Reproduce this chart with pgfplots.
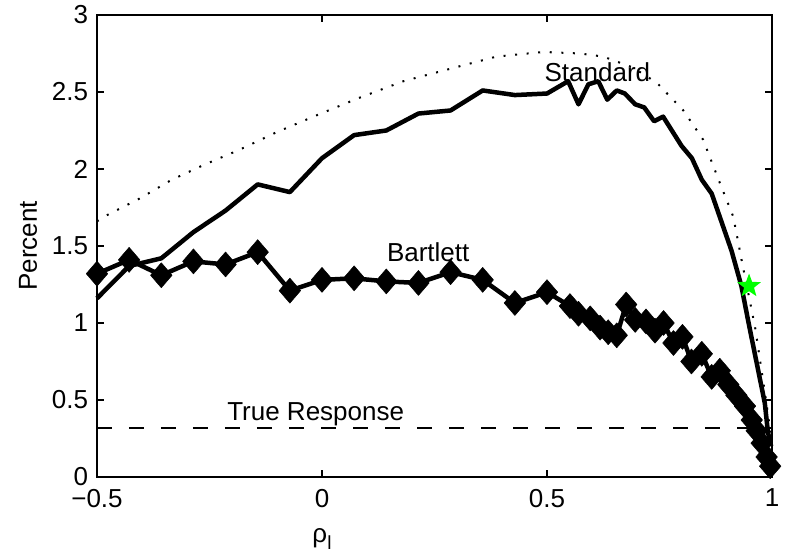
\documentclass[border=0pt]{standalone}
\usepackage{fontspec}
\setmainfont{Liberation Sans}
\usepackage{pgfplots}
\pgfplotsset{compat=1.18}
\usetikzlibrary{shapes.geometric}
\pgfdeclareplotmark{fstar}{\node[star, star points=5, star point ratio=2.4, fill=green, draw=none, inner sep=0pt, minimum size=25pt]{};}
\begin{document}
\fontsize{26}{30}\selectfont
\begin{tikzpicture}
\begin{axis}[
  scale only axis, width=675pt, height=462pt,
  xmin=-0.5, xmax=1, ymin=0, ymax=3,
  xtick={-0.5,0,0.5,1}, xticklabels={−0.5,0,0.5,1},
  ytick={0,0.5,1,1.5,2,2.5,3}, yticklabels={0,0.5,1,1.5,2,2.5,3},
  tick align=inside, major tick length=7pt,
  axis line style={line width=1.4pt},
  every tick/.style={black, line width=1.2pt},
  tick label style={font=\fontsize{26}{30}\selectfont},
  xticklabel style={yshift=-3pt},
  clip=false,
  xlabel={ρ\raisebox{-0.28em}{\fontsize{19}{22}\selectfont l}},
  ylabel={Percent},
  label style={font=\fontsize{26}{30}\selectfont},
  xlabel style={at={(axis description cs:0.3333,0)}, anchor=center, yshift=-62pt},
  ylabel style={at={(axis description cs:-0.1022,0.5)}, anchor=center},
]
% true response
\addplot[black, line width=1.3pt, dash pattern=on 15pt off 17pt] coordinates {(-0.5,0.318) (1,0.318)};
% dotted theoretical curve
\addplot[black, line width=2pt, dash pattern=on 2pt off 9.6pt] coordinates {
(-0.5,1.66) (-0.478,1.70) (-0.404,1.81) (-0.334,1.93) (-0.26,2.03) (-0.187,2.12)
(-0.10,2.24) (-0.019,2.34) (0.081,2.46) (0.181,2.57) (0.284,2.65) (0.388,2.73)
(0.492,2.76) (0.573,2.75) (0.625,2.73) (0.690,2.66) (0.744,2.56) (0.803,2.38)
(0.847,2.19) (0.884,1.91) (0.914,1.69) (0.933,1.40) (0.962,0.98) (0.981,0.61)
(0.992,0.39) (0.998,0.22)};
% Standard
\addplot[black, line width=4.5pt, line join=round] coordinates {
(-0.5,1.16) (-0.4286,1.37) (-0.3571,1.42) (-0.2857,1.59) (-0.2143,1.73) (-0.1429,1.90)
(-0.0714,1.85) (0,2.07) (0.0714,2.22) (0.1429,2.25) (0.2143,2.36) (0.2857,2.38)
(0.3571,2.51) (0.4286,2.48) (0.5,2.49) (0.547,2.57) (0.570,2.42) (0.592,2.55)
(0.614,2.57) (0.634,2.45) (0.655,2.51) (0.673,2.49) (0.696,2.42) (0.716,2.40)
(0.738,2.31) (0.758,2.34) (0.799,2.15) (0.822,2.07) (0.844,1.93) (0.866,1.84)
(0.910,1.47) (0.932,1.24) (0.948,1.00) (0.966,0.74) (0.984,0.48) (0.991,0.29) (0.998,0.20)};
% Bartlett
\addplot[black, line width=4.5pt, line join=round, mark=diamond*, mark size=12.5pt,
  mark options={solid, fill=black, line width=0.5pt, xscale=1.15}] coordinates {
(-0.5,1.32) (-0.4286,1.41) (-0.3571,1.31) (-0.2857,1.40) (-0.2143,1.38) (-0.1429,1.46)
(-0.0714,1.21) (0,1.28) (0.0714,1.29) (0.1429,1.27) (0.2143,1.26) (0.2857,1.33)
(0.3571,1.28) (0.4286,1.13) (0.5,1.20) (0.551,1.11) (0.570,1.06) (0.596,1.03)
(0.618,0.97) (0.636,0.94) (0.655,0.92) (0.676,1.12) (0.696,1.02) (0.720,1.01)
(0.740,0.95) (0.759,1.00) (0.781,0.87) (0.801,0.91) (0.821,0.75) (0.844,0.80)
(0.866,0.65) (0.884,0.69) (0.903,0.60) (0.921,0.53) (0.940,0.46) (0.955,0.37)
(0.966,0.30) (0.977,0.22) (0.988,0.13) (0.996,0.07)};
% star
\addplot[only marks, mark=fstar] coordinates {(0.949,1.24)};
\node[font=\fontsize{26}{30}\selectfont] at (axis cs:0.612,2.63) {Standard};
\node[font=\fontsize{26}{30}\selectfont] at (axis cs:0.236,1.46) {Bartlett};
\node[font=\fontsize{26}{30}\selectfont] at (axis cs:-0.014,0.41) {True Response};
\end{axis}
\pgfresetboundingbox
\path[use as bounding box] ([xshift=-97pt,yshift=-78pt]current axis.south west) rectangle ([xshift=18pt,yshift=15pt]current axis.north east);
\end{tikzpicture}
\end{document}
